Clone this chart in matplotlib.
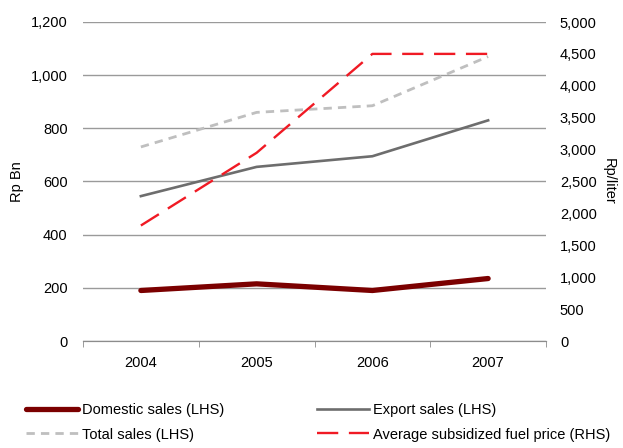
import matplotlib.pyplot as plt
from matplotlib.lines import Line2D

plt.rcParams["font.family"] = ["Liberation Sans", "DejaVu Sans"]
plt.rcParams["font.size"] = 10.5

# Dados (Rp Bn, Rp/liter)
anos = ["2004", "2005", "2006", "2007"]
vendas_domesticas = [190, 215, 190, 235]
vendas_exportacao = [545, 655, 695, 830]
vendas_totais = [730, 860, 885, 1070]
preco_combustivel = [1810, 2950, 4500, 4500]

fig = plt.figure(figsize=(6.23, 4.48), dpi=100)
ax = fig.add_axes([83 / 623, 107 / 448, 463 / 623, 319 / 448])
ax2 = ax.twinx()

x = range(len(anos))

ax.plot(x, vendas_totais, color="#BFBFBF", linewidth=2.0, dashes=(3, 2.2))
ax.plot(x, vendas_exportacao, color="#6D6D6D", linewidth=1.9)
ax.plot(x, vendas_domesticas, color="#7B0000", linewidth=3.8, solid_capstyle="round")
ax2.plot(x, preco_combustivel, color="#F01A24", linewidth=1.7, dashes=(9, 4.5))

ax.set_xlim(-0.5, 3.5)
ax.set_ylim(0, 1200)
ax.set_yticks(range(0, 1201, 200))
ax.set_yticklabels([f"{v:,}" for v in range(0, 1201, 200)])
ax2.set_ylim(0, 5000)
ax2.set_yticks(range(0, 5001, 500))
ax2.set_yticklabels([f"{v:,}" for v in range(0, 5001, 500)])

ax.set_xticks(list(x))
ax.set_xticklabels(anos)
ax.set_xticks([-0.5, 0.5, 1.5, 2.5, 3.5], minor=True)
ax.tick_params(axis="x", which="major", length=0, pad=11)
ax.tick_params(axis="x", which="minor", length=4, color="#8C8C8C", direction="out")
ax.tick_params(axis="y", length=0, pad=11)
ax2.tick_params(axis="y", length=0, pad=10)

ax.grid(axis="y", color="#9A9A9A", linewidth=1.0)
ax.set_axisbelow(True)
for a in (ax, ax2):
    for lado in ("top", "left", "right"):
        a.spines[lado].set_visible(False)
    a.spines["bottom"].set_color("#8C8C8C")

ax.set_ylabel("Rp Bn", labelpad=5)
ax2.set_ylabel("Rp/liter", rotation=270, labelpad=14)

handles = [
    Line2D([], [], color="#7B0000", linewidth=3.8, solid_capstyle="round"),
    Line2D([], [], color="#BFBFBF", linewidth=2.0, dashes=(3, 2.2)),
    Line2D([], [], color="#6D6D6D", linewidth=1.9),
    Line2D([], [], color="#F01A24", linewidth=1.7, dashes=(9, 4.5)),
]
labels = ["Domestic sales (LHS)", "Total sales (LHS)",
          "Export sales (LHS)", "Average subsidized fuel price (RHS)"]
fig.legend(handles, labels, ncol=2, loc="lower left",
           bbox_to_anchor=(0.02, -0.015), frameon=False,
           handlelength=3.6, handletextpad=0.3, columnspacing=6.3,
           labelspacing=0.75)

fig.savefig("out.png", dpi=100)
